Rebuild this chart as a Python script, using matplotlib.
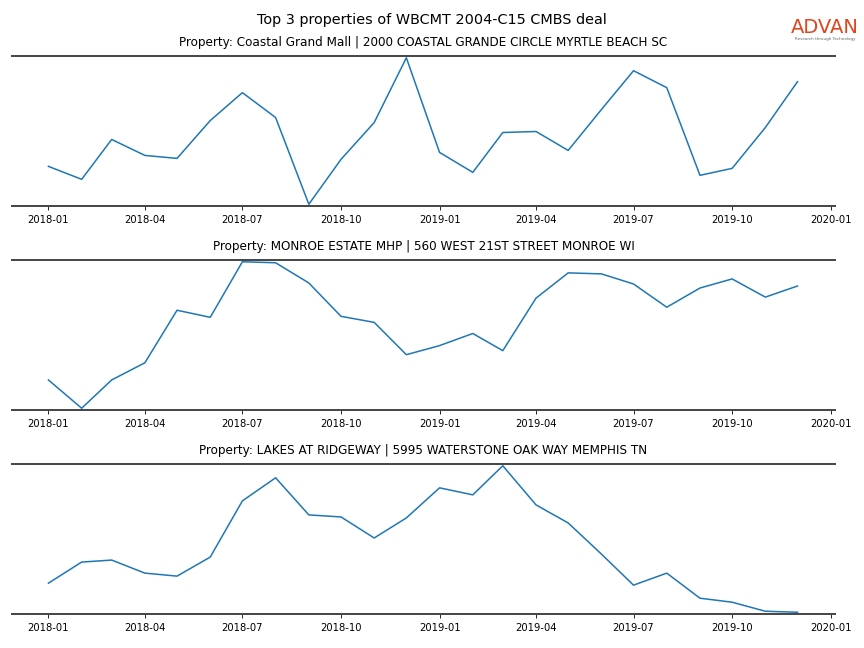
from matplotlib import pyplot as plt
import matplotlib.dates as mdates
import pandas as pd

months = pd.date_range('2018-01-01', '2019-12-01', freq='MS')

# Relative activity index per property (y axis hidden in original)
coastal_values = [39, 26, 66, 50, 47, 85, 113, 88, 1, 46, 83, 148, 53, 33, 73, 74,
                  55, 96, 135, 118, 30, 37, 78, 124]
monroe_values = [30, 2, 30, 47, 99, 92, 147, 146, 126, 93, 87, 55, 64, 76, 59, 111,
                 136, 135, 125, 102, 121, 130, 112, 123]
lakes_values = [31, 52, 54, 41, 38, 57, 113, 136, 99, 97, 76, 96, 126, 119, 148, 109,
                91, 60, 29, 41, 16, 12, 3, 2]

titles = ['Property: Coastal Grand Mall | 2000 COASTAL GRANDE CIRCLE MYRTLE BEACH SC',
          'Property: MONROE ESTATE MHP | 560 WEST 21ST STREET MONROE WI',
          'Property: LAKES AT RIDGEWAY | 5995 WATERSTONE OAK WAY MEMPHIS TN']
series = [coastal_values, monroe_values, lakes_values]

fig = plt.figure(figsize=(8.64, 6.48), dpi=100)
fig.suptitle('Top 3 properties of WBCMT 2004-C15 CMBS deal', fontsize=10.35, y=0.98)

# axes bottoms/tops in pixels (from top of figure)
panel_tops = [56, 260, 464]
panel_height = 150
left, right = 12, 835

for i in range(3):
    top = panel_tops[i]
    ax = fig.add_axes([left / 864, 1 - (top + panel_height) / 648,
                       (right - left) / 864, panel_height / 648])
    ax.plot(months, series[i], color='tab:blue', lw=1.1)
    ax.set_title(titles[i], fontsize=8.66, pad=7.5)
    ax.margins(y=0.012)
    ax.set_xlim(pd.Timestamp('2017-11-28'), pd.Timestamp('2020-01-05'))
    ax.xaxis.set_major_locator(mdates.MonthLocator(bymonth=[1, 4, 7, 10]))
    ax.xaxis.set_major_formatter(mdates.DateFormatter('%Y-%m'))
    ax.tick_params(axis='x', labelsize=7.2, length=3, width=0.6)
    ax.set_yticks([])
    for side in ['left', 'right']:
        ax.spines[side].set_visible(False)
    for side in ['top', 'bottom']:
        ax.spines[side].set_color('#444444')
        ax.spines[side].set_linewidth(1.4)

# logo
fig.text(0.955, 0.957, 'ADVAN', color='#e0461e', fontsize=14, ha='center', va='center',
         fontweight='medium')
fig.text(0.955, 0.94, 'Research through Technology', color='#666666', fontsize=3,
         ha='center', va='center')

fig.savefig('out.png', dpi=100)
